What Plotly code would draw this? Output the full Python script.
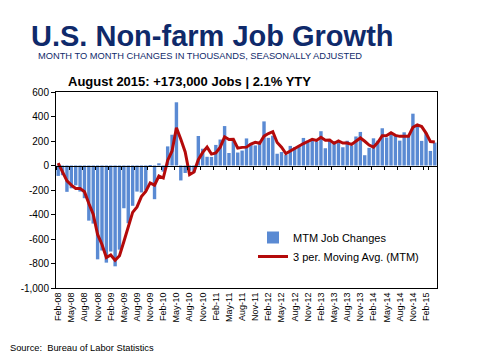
import pandas as pd
import plotly.graph_objects as go

# Monthly categories Feb-08 .. Apr-15
months = list(pd.date_range("2008-02-01", "2015-04-01", freq="MS").strftime("%b-%y"))

mtm_changes = [
    -85, -79, -215, -186, -162, -213, -267, -450, -474, -766, -694,
    -793, -702, -823, -687, -349, -471, -329, -213, -220, -204, -2, -275,
    18, -50, 156, 251, 516, -122, -61, -42, -57, 241, 137, 71,
    70, 168, 212, 322, 102, 217, 106, 122, 221, 183, 164, 196,
    360, 226, 243, 96, 110, 88, 160, 150, 161, 225, 203, 214,
    197, 280, 141, 203, 199, 201, 149, 202, 164, 237, 274, 84,
    144, 222, 203, 304, 229, 267, 243, 203, 271, 243, 423, 329,
    201, 266, 119, 187,
]

moving_avg = [
    20, -50, -126, -160, -188, -187, -214, -310, -397, -563, -645,
    -751, -730, -773, -737, -620, -502, -383, -338, -254, -212, -142, -160,
    -86, -102, 41, 119, 308, 215, 111, -75, -53, 47, 107, 150,
    93, 103, 150, 234, 212, 214, 142, 148, 150, 175, 189, 181,
    240, 261, 276, 188, 150, 98, 119, 133, 157, 179, 196, 214,
    205, 230, 206, 208, 181, 201, 183, 184, 172, 201, 225, 198,
    167, 150, 190, 243, 245, 267, 246, 238, 239, 239, 312, 332,
    318, 265, 195, 191,
]

x_tick_labels = months[::3]
y_tick_values = [600, 400, 200, 0, -200, -400, -600, -800, -1000]
y_tick_labels = ["600", "400", "200", "0", "-200", "-400", "-600", "-800", "-1,000"]

FONT = "Liberation Sans, Arial, sans-serif"
NAVY = "#0f2a6b"

fig = go.Figure()
fig.add_trace(go.Bar(
    x=months, y=mtm_changes, name="MTM Job Changes",
    marker=dict(color="#5a8ad3", line=dict(width=0)),
))
fig.add_trace(go.Scatter(
    x=months, y=moving_avg, name="3 per. Moving Avg. (MTM)",
    mode="lines", line=dict(color="#b40a0a", width=3),
))
# invisible helper trace to carry the zero-level category axis
fig.add_trace(go.Scatter(
    x=months, y=moving_avg, xaxis="x2", mode="lines",
    line=dict(width=0), opacity=0, showlegend=False, hoverinfo="skip",
))

# page body adds an 8px offset; lay out in window pixels minus that offset
OFF = 8
W, H = 480 - OFF, 360 - OFF
L, T = 56 - OFF, 92 - OFF
pw, ph = 381, 196
R, B = W - L - pw, H - T - ph


def px(xp):
    return (xp - OFF - L) / pw


def py(yp):
    return (H - B - (yp - OFF)) / ph


fig.update_layout(
    width=W, height=H,
    margin=dict(l=L, r=R, t=T, b=B),
    paper_bgcolor="white", plot_bgcolor="white",
    bargap=0.22,
    showlegend=True,
    legend=dict(
        x=px(253), y=py(223), xanchor="left", yanchor="top",
        bgcolor="rgba(0,0,0,0)", font=dict(family=FONT, size=11, color="black"),
        itemwidth=30, tracegroupgap=0,
    ),
    xaxis=dict(
        type="category", categoryorder="array", categoryarray=months,
        range=[-0.5, len(months) - 0.5],
        tickmode="array", tickvals=x_tick_labels, ticktext=x_tick_labels,
        tickangle=-90, ticks="", tickfont=dict(family=FONT, size=9, color="black"),
        showline=True, linecolor="black", linewidth=1, mirror=True,
        showgrid=False, zeroline=False,
    ),
    xaxis2=dict(
        type="category", categoryorder="array", categoryarray=months,
        overlaying="x", anchor="free", position=0.625, matches="x",
        tickmode="array", tickvals=x_tick_labels, tickson="boundaries",
        ticks="outside", ticklen=3, tickcolor="black", showticklabels=False,
        showline=True, linecolor="black", linewidth=1,
        showgrid=False, zeroline=False,
    ),
    yaxis=dict(
        range=[-1000, 600], tickmode="array",
        tickvals=y_tick_values, ticktext=y_tick_labels,
        ticks="outside", ticklen=4, tickcolor="black",
        tickfont=dict(family=FONT, size=10, color="black"),
        showline=True, linecolor="black", linewidth=1, mirror=True,
        showgrid=False, zeroline=False,
    ),
    annotations=[
        dict(text="<b>U.S. Non-farm Job Growth</b>", xref="paper", yref="paper",
             x=px(29), y=py(18), xanchor="left", yanchor="top", showarrow=False,
             font=dict(family=FONT, size=29, color=NAVY)),
        dict(text="MONTH TO MONTH CHANGES IN THOUSANDS, SEASONALLY ADJUSTED",
             xref="paper", yref="paper", x=px(36), y=py(49), xanchor="left",
             yanchor="top", showarrow=False,
             font=dict(family=FONT, size=9.3, color=NAVY)),
        dict(text="<b>August 2015: +173,000 Jobs | 2.1% YTY</b>", xref="paper",
             yref="paper", x=px(66), y=py(72), xanchor="left", yanchor="top",
             showarrow=False, font=dict(family=FONT, size=13, color="black")),
        dict(text="Source:  Bureau of Labor Statistics", xref="paper", yref="paper",
             x=px(8), y=py(341), xanchor="left", yanchor="top", showarrow=False,
             font=dict(family=FONT, size=9.3, color="black")),
    ],
)

fig.write_html("out.html")
